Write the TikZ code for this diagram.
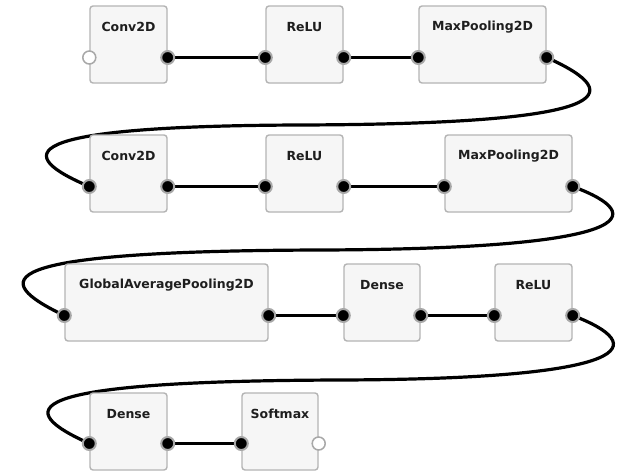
\documentclass[tikz,border=0pt]{standalone}
\usepackage{fontspec}
\setmainfont{DejaVu Sans}
\usetikzlibrary{backgrounds,calc}
\definecolor{boxgray}{HTML}{B4B4B4}
\definecolor{boxfill}{HTML}{F6F6F6}
\definecolor{portgray}{HTML}{A8A8A8}
\definecolor{txt}{HTML}{1E1E1E}
\tikzset{
  layer/.style={draw=boxgray, fill=boxfill, rounded corners=3pt, line width=1.4pt, inner sep=0pt, minimum height=77pt},
  lbl/.style={font=\bfseries\fontsize{12.5}{14}\selectfont, text=txt, inner sep=0pt, anchor=center},
  port/.style={circle, minimum size=13pt, inner sep=0pt, fill=black, draw=portgray, line width=2pt},
  openport/.style={circle, minimum size=13pt, inner sep=0pt, fill=white, draw=portgray, line width=1.5pt},
  wire/.style={draw=black, line width=3.2pt},
}
\begin{document}
\begin{tikzpicture}[x=1pt,y=-1pt]
\useasboundingbox (0,0) rectangle (629,471);
\begin{pgfonlayer}{background}
\fill[white] (0,0) rectangle (629,471);
\end{pgfonlayer}
% row 1
\node[layer, minimum width=77pt] (c1) at (128.5,44.5) {};
\node[layer, minimum width=77pt] (r1) at (304.5,44.5) {};
\node[layer, minimum width=127pt] (m1) at (482.5,44.5) {};
% row 2
\node[layer, minimum width=77pt] (c2) at (128.5,173.5) {};
\node[layer, minimum width=77pt] (r2) at (304.5,173.5) {};
\node[layer, minimum width=127pt] (m2) at (508.5,173.5) {};
% row 3
\node[layer, minimum width=203pt] (g) at (166.5,302.5) {};
\node[layer, minimum width=76pt] (d1) at (382,302.5) {};
\node[layer, minimum width=77pt] (r3) at (533.5,302.5) {};
% row 4
\node[layer, minimum width=77pt] (d2) at (128.5,431.5) {};
\node[layer, minimum width=76pt] (s) at (280,431.5) {};
% labels
\node[lbl] (c1t) at ($(c1.north)+(0,22)$) {Conv2D};
\node[lbl] (r1t) at ($(r1.north)+(0,22)$) {ReLU};
\node[lbl] (m1t) at ($(m1.north)+(0,22)$) {MaxPooling2D};
\node[lbl] (c2t) at ($(c2.north)+(0,22)$) {Conv2D};
\node[lbl] (r2t) at ($(r2.north)+(0,22)$) {ReLU};
\node[lbl] (m2t) at ($(m2.north)+(0,22)$) {MaxPooling2D};
\node[lbl] (gt) at ($(g.north)+(0,22)$) {GlobalAveragePooling2D};
\node[lbl] (d1t) at ($(d1.north)+(0,22)$) {Dense};
\node[lbl] (r3t) at ($(r3.north)+(0,22)$) {ReLU};
\node[lbl] (d2t) at ($(d2.north)+(0,22)$) {Dense};
\node[lbl] (st) at ($(s.north)+(0,22)$) {Softmax};
% ports
\node[openport] (c1i) at ($(c1.west)+(0,13)$) {};
\node[port] (c1o) at ($(c1.east)+(0,13)$) {};
\node[port] (r1i) at ($(r1.west)+(0,13)$) {};
\node[port] (r1o) at ($(r1.east)+(0,13)$) {};
\node[port] (m1i) at ($(m1.west)+(0,13)$) {};
\node[port] (m1o) at ($(m1.east)+(0,13)$) {};
\node[port] (c2i) at ($(c2.west)+(0,13)$) {};
\node[port] (c2o) at ($(c2.east)+(0,13)$) {};
\node[port] (r2i) at ($(r2.west)+(0,13)$) {};
\node[port] (r2o) at ($(r2.east)+(0,13)$) {};
\node[port] (m2i) at ($(m2.west)+(0,13)$) {};
\node[port] (m2o) at ($(m2.east)+(0,13)$) {};
\node[port] (gi) at ($(g.west)+(0,13)$) {};
\node[port] (go) at ($(g.east)+(0,13)$) {};
\node[port] (d1i) at ($(d1.west)+(0,13)$) {};
\node[port] (d1o) at ($(d1.east)+(0,13)$) {};
\node[port] (r3i) at ($(r3.west)+(0,13)$) {};
\node[port] (r3o) at ($(r3.east)+(0,13)$) {};
\node[port] (d2i) at ($(d2.west)+(0,12)$) {};
\node[port] (d2o) at ($(d2.east)+(0,12)$) {};
\node[port] (si) at ($(s.west)+(0,12)$) {};
\node[openport] (so) at ($(s.east)+(0,12)$) {};
% wires
\begin{pgfonlayer}{background}
\draw[wire] (c1o.center) -- (r1i.center);
\draw[wire] (r1o.center) -- (m1i.center);
\draw[wire] (m1o.center) .. controls (630,95) and (615,124) .. (300,125)
   .. controls (10,126) and (15,155) .. (c2i.center);
\draw[wire] (c2o.center) -- (r2i.center);
\draw[wire] (r2o.center) -- (m2i.center);
\draw[wire] (m2o.center) .. controls (650,215) and (640,249) .. (320,250)
   .. controls (-15,251) and (-10,280) .. (gi.center);
\draw[wire] (go.center) -- (d1i.center);
\draw[wire] (d1o.center) -- (r3i.center);
\draw[wire] (r3o.center) .. controls (650,345) and (640,379) .. (340,380)
   .. controls (10,381) and (15,410) .. (d2i.center);
\draw[wire] (d2o.center) -- (si.center);
\end{pgfonlayer}
\end{tikzpicture}
\end{document}
